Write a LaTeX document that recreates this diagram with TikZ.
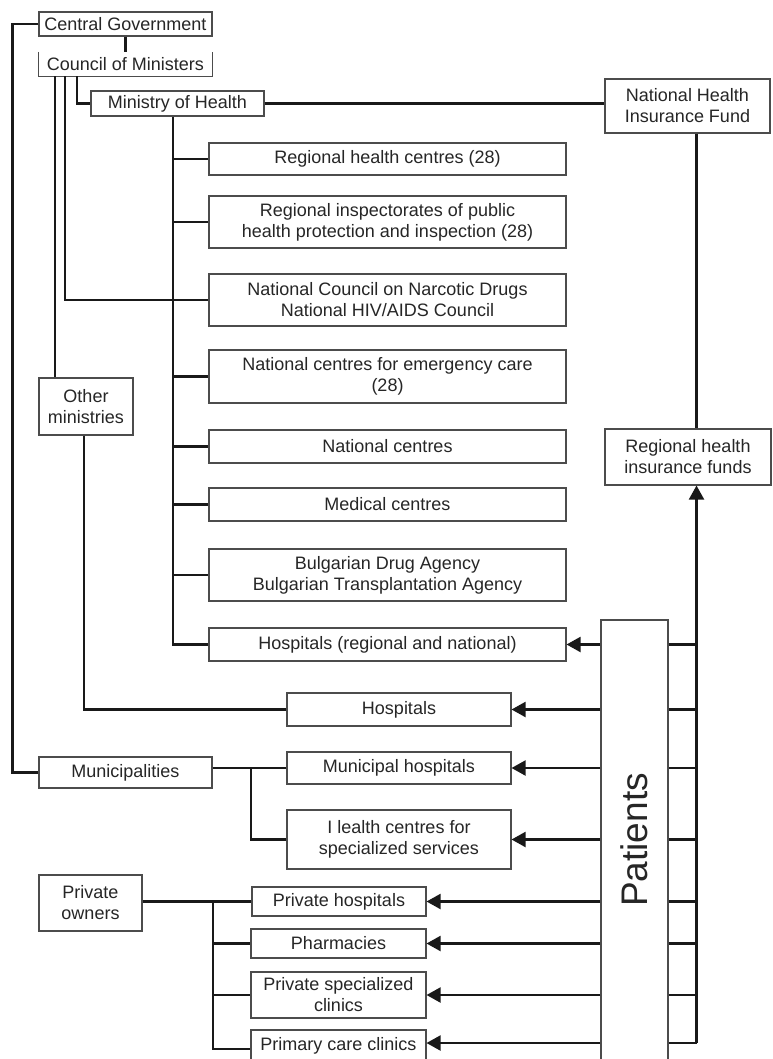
\documentclass[tikz,border=0pt]{standalone}
\usepackage{fontspec}
\setmainfont{Liberation Sans}
\usetikzlibrary{arrows.meta}
\begin{document}
\begin{tikzpicture}[x=1pt,y=-1pt,
  box/.style={draw=black!70, line width=1.1pt, rectangle, inner sep=0pt, align=center,
    text=black!85, font=\fontsize{18}{21}\selectfont},
  openbox/.style={rectangle, inner sep=0pt, align=center, text=black!85, font=\fontsize{18}{21}\selectfont},
  conn/.style={draw=black!90, line width=2.1pt},
  arr/.style={draw=black!90, line width=2.1pt, -{Triangle[length=14pt,width=15pt]}}]
\fill[white] (0,0) rectangle (772,1059);
\useasboundingbox (0,0) rectangle (772,1059);

% top hierarchy
\node[box, minimum width=173, minimum height=24] (cg) at (125.5,24) {Central Government};
\node[openbox, minimum width=173, minimum height=24] (com) at (125.5,64) {Council of Ministers};
\draw[draw=black!70, line width=1.1pt] (com.north west) -- (com.south west) -- (com.south east) -- (com.north east);
\node[box, minimum width=173, minimum height=25] (moh) at (177.5,103.5) {Ministry of Health};
\node[box, minimum width=165, minimum height=54] (nhif) at (687.5,106) {National Health\\Insurance Fund};

% middle column
\node[box, minimum width=357, minimum height=32] (rhc) at (387.5,159) {Regional health centres (28)};
\node[box, minimum width=357, minimum height=52] (ri) at (387.5,222) {Regional inspectorates of public\\health protection and inspection (28)};
\node[box, minimum width=357, minimum height=52] (ncn) at (387.5,300) {National Council on Narcotic Drugs\\National HIV/AIDS Council};
\node[box, minimum width=357, minimum height=53] (nce) at (387.5,376.5) {National centres for emergency care\\(28)};
\node[box, minimum width=357, minimum height=33] (nc) at (387.5,446.5) {National centres};
\node[box, minimum width=357, minimum height=33] (mc) at (387.5,504.5) {Medical centres};
\node[box, minimum width=357, minimum height=52] (bda) at (387.5,575) {Bulgarian Drug Agency\\Bulgarian Transplantation Agency};
\node[box, minimum width=357, minimum height=33] (hrn) at (387.5,644.5) {Hospitals (regional and national)};

% left side
\node[box, minimum width=94, minimum height=57] (om) at (86,406.5) {Other\\ministries};
\node[box, minimum width=166, minimum height=56] (rhif) at (688,457) {Regional health\\insurance funds};
\node[box, minimum width=224, minimum height=33] (hosp) at (399,709.5) {Hospitals};
\node[box, minimum width=173, minimum height=31] (mun) at (125.5,772.5) {Municipalities};
\node[box, minimum width=224, minimum height=32] (mh) at (399,768) {Municipal hospitals};
\node[box, minimum width=224, minimum height=59] (hcs) at (399,839.5) {I lealth centres for\\specialized services};
\node[box, minimum width=103, minimum height=56] (po) at (90.5,903) {Private\\owners};
\node[box, minimum width=174, minimum height=29] (ph) at (339,901.5) {Private hospitals};
\node[box, minimum width=175, minimum height=29] (pha) at (338.5,943.5) {Pharmacies};
\node[box, minimum width=175, minimum height=46] (psc) at (338.5,995) {Private specialized\\clinics};
\node[box, minimum width=175, minimum height=32] (pcc) at (338.5,1046) {Primary care clinics};

% patients
\node[box, minimum width=67, minimum height=450] (pat) at (634.5,845) {};
\node[rotate=90, text=black!85, font=\fontsize{37}{40}\selectfont, inner sep=0pt] (patt) at (634.5,840) {Patients};
\coordinate (bb) at (696.5,1043);

% connectors: government
\draw[conn] (cg.south) -- (com.north);
\draw[conn] (cg.west) -- ++(-26,0) |- (mun.west);
\draw[conn] (com.south -| 55,0) -- (om.north -| 55,0);
\draw[conn] (com.south -| 65,0) |- (ncn.west);
\draw[conn] (com.south -| 77,0) |- (moh.west);
\draw[conn] (moh.east) -- (moh.east -| nhif.west);
\draw[conn] (moh.south -| 173,0) |- (hrn.west);
\foreach \n in {rhc,ri,nce,nc,mc,bda}{
  \draw[conn] (\n.west -| 173,0) -- (\n.west);
}
\draw[conn] (om.south -| 84,0) |- (hosp.west);
\draw[conn] (mun.east |- mh.west) -- (mh.west);
\draw[conn] (mh.west -| 251,0) |- (hcs.west);
\draw[conn] (po.east |- ph.west) -- (ph.west);
\draw[conn] (ph.west -| 213,0) |- ([yshift=-3pt]pcc.west);
\draw[conn] (pha.west -| 213,0) -- (pha.west);
\draw[conn] (psc.west -| 213,0) -- (psc.west);

% insurance
\draw[conn] (bb |- nhif.south) -- (bb |- rhif.north);
\draw[arr] (bb) -- (bb |- rhif.south);

% patients arrows
\foreach \n in {hrn,hosp,mh,hcs,ph,pha,psc}{
  \draw[arr] (pat.west |- \n.east) -- (\n.east);
  \draw[conn] (pat.east |- \n.east) -- (bb |- \n.east);
}
\draw[arr] (pat.west |- bb) -- (pcc.east |- bb);
\draw[conn] (pat.east |- bb) -- (bb);
\end{tikzpicture}
\end{document}
